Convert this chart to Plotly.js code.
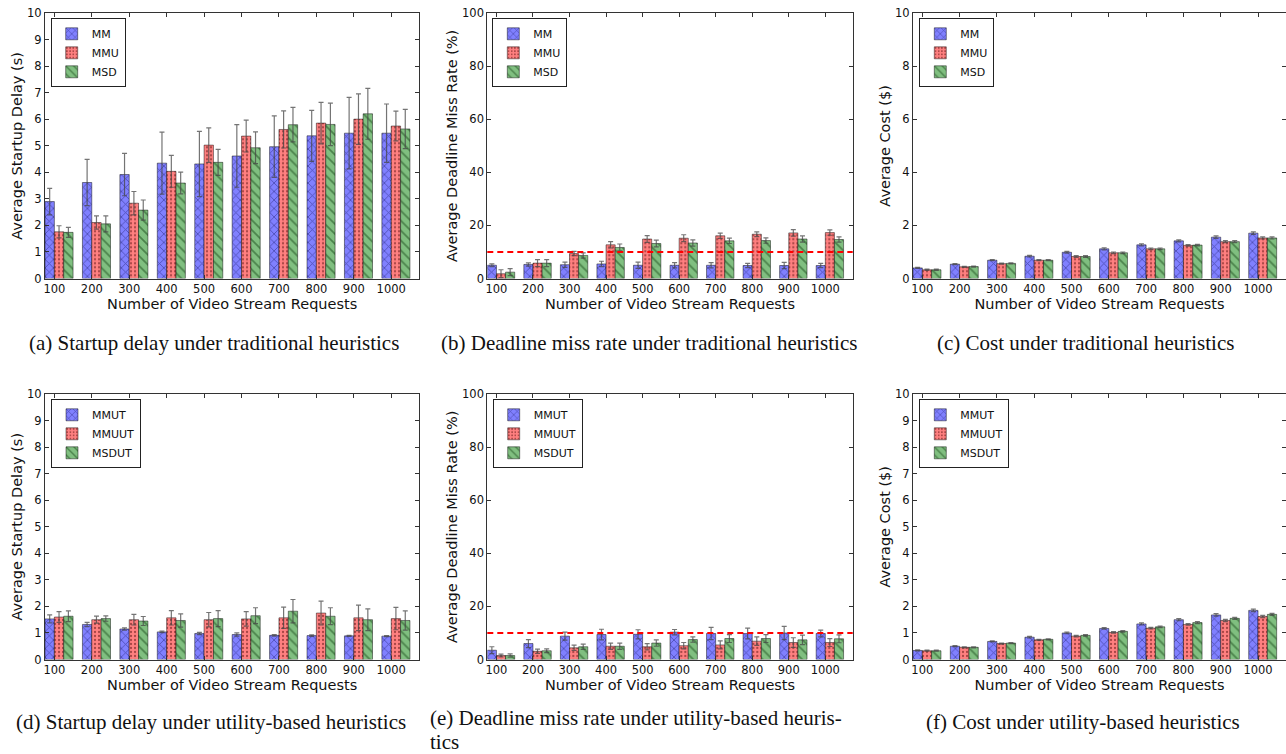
<!DOCTYPE html>
<html>
<head>
<meta charset="utf-8">
<script src="https://cdn.plot.ly/plotly-3.0.1.min.js"></script>
<style>html,body{margin:0;padding:0;background:#fff;}#chart{width:1286px;height:754px;}</style>
</head>
<body>
<div id="chart"></div>
<script>
// ---------- data ----------
const categories = ['100','200','300','400','500','600','700','800','900','1000'];

// (a) startup delay, traditional heuristics
const delayTradMM     = [2.90, 3.62, 3.92, 4.35, 4.32, 4.62, 4.97, 5.38, 5.48, 5.48];
const delayTradMMErr  = [0.50, 0.87, 0.80, 1.17, 1.23, 1.18, 1.16, 0.96, 1.35, 1.10];
const delayTradMMU    = [1.76, 2.11, 2.84, 4.04, 5.03, 5.37, 5.62, 5.86, 6.01, 5.75];
const delayTradMMUErr = [0.23, 0.25, 0.44, 0.60, 0.65, 0.60, 0.70, 0.78, 0.95, 0.56];
const delayTradMSD    = [1.74, 2.06, 2.58, 3.60, 4.38, 4.93, 5.80, 5.81, 6.21, 5.64];
const delayTradMSDErr = [0.19, 0.30, 0.38, 0.41, 0.49, 0.60, 0.65, 0.80, 0.96, 0.74];

// (b) deadline miss rate, traditional heuristics
const missTradMM     = [5.0, 5.3, 5.2, 5.5, 5.0, 5.0, 5.0, 4.9, 4.9, 4.9];
const missTradMMErr  = [0.5, 0.6, 1.0, 1.0, 1.2, 1.0, 1.0, 0.8, 1.2, 0.8];
const missTradMMU    = [1.8, 5.8, 9.4, 12.7, 14.9, 15.2, 16.1, 16.7, 17.2, 17.3];
const missTradMMUErr = [1.5, 1.3, 0.8, 1.2, 1.3, 1.3, 1.0, 0.9, 1.2, 1.0];
const missTradMSD    = [2.4, 5.8, 8.7, 11.7, 13.2, 13.4, 14.2, 14.3, 14.9, 14.7];
const missTradMSDErr = [1.3, 1.3, 1.0, 1.3, 1.3, 1.2, 1.0, 1.0, 1.2, 1.0];

// (c) cost, traditional heuristics
const costTradMM     = [0.40, 0.54, 0.69, 0.84, 0.99, 1.12, 1.27, 1.42, 1.56, 1.71];
const costTradMMErr  = [0.02, 0.02, 0.02, 0.03, 0.03, 0.04, 0.04, 0.04, 0.05, 0.05];
const costTradMMU    = [0.33, 0.44, 0.56, 0.69, 0.83, 0.97, 1.12, 1.25, 1.39, 1.53];
const costTradMMUErr = [0.02, 0.02, 0.02, 0.02, 0.03, 0.03, 0.03, 0.03, 0.04, 0.04];
const costTradMSD    = [0.33, 0.45, 0.57, 0.69, 0.83, 0.97, 1.12, 1.26, 1.39, 1.53];
const costTradMSDErr = [0.02, 0.02, 0.02, 0.02, 0.03, 0.03, 0.03, 0.03, 0.04, 0.04];

// (d) startup delay, utility-based heuristics
const delayUtilMMUT     = [1.53, 1.32, 1.15, 1.04, 0.98, 0.94, 0.91, 0.90, 0.89, 0.88];
const delayUtilMMUTErr  = [0.15, 0.08, 0.04, 0.03, 0.04, 0.06, 0.03, 0.03, 0.02, 0.02];
const delayUtilMMUUT    = [1.60, 1.50, 1.50, 1.57, 1.50, 1.53, 1.57, 1.75, 1.57, 1.54];
const delayUtilMMUUTErr = [0.20, 0.13, 0.20, 0.27, 0.27, 0.27, 0.40, 0.45, 0.48, 0.42];
const delayUtilMSDUT    = [1.63, 1.54, 1.45, 1.47, 1.54, 1.65, 1.82, 1.63, 1.50, 1.47];
const delayUtilMSDUTErr = [0.20, 0.10, 0.17, 0.25, 0.30, 0.30, 0.44, 0.32, 0.41, 0.36];

// (e) deadline miss rate, utility-based heuristics
const missUtilMMUT     = [3.5, 6.0, 8.8, 9.4, 9.5, 10.3, 9.8, 9.8, 10.0, 9.8];
const missUtilMMUTErr  = [1.3, 1.5, 1.5, 2.0, 1.7, 1.0, 2.3, 2.0, 2.5, 1.3];
const missUtilMMUUT    = [1.5, 3.1, 4.4, 5.0, 4.8, 5.2, 5.5, 6.9, 6.4, 6.4];
const missUtilMMUUTErr = [0.5, 0.8, 1.0, 1.2, 1.2, 1.2, 1.5, 1.6, 1.8, 1.5];
const missUtilMSDUT    = [1.5, 3.3, 4.8, 5.0, 6.2, 7.5, 7.9, 7.9, 7.4, 7.8];
const missUtilMSDUTErr = [0.6, 0.7, 1.0, 1.2, 1.2, 1.0, 1.5, 1.5, 1.8, 1.5];

// (f) cost, utility-based heuristics
const costUtilMMUT     = [0.34, 0.50, 0.68, 0.84, 1.00, 1.17, 1.34, 1.50, 1.68, 1.85];
const costUtilMMUTErr  = [0.02, 0.02, 0.02, 0.03, 0.03, 0.03, 0.04, 0.04, 0.05, 0.05];
const costUtilMMUUT    = [0.33, 0.46, 0.60, 0.74, 0.88, 1.02, 1.18, 1.32, 1.47, 1.62];
const costUtilMMUUTErr = [0.02, 0.02, 0.02, 0.02, 0.03, 0.03, 0.03, 0.03, 0.04, 0.04];
const costUtilMSDUT    = [0.33, 0.46, 0.62, 0.76, 0.91, 1.06, 1.23, 1.39, 1.55, 1.70];
const costUtilMSDUTErr = [0.02, 0.02, 0.02, 0.02, 0.03, 0.03, 0.03, 0.04, 0.04, 0.04];

const namesTrad = ['MM', 'MMU', 'MSD'];
const namesUtil = ['MMUT', 'MMUUT', 'MSDUT'];

const threshold = 10;

const yTitles = ['Average Startup Delay (s)', 'Average Deadline Miss Rate (%)', 'Average Cost ($)',
                 'Average Startup Delay (s)', 'Average Deadline Miss Rate (%)', 'Average Cost ($)'];
const xTitle = 'Number of Video Stream Requests';
const captions = ['(a) Startup delay under traditional heuristics',
                  '(b) Deadline miss rate under traditional heuristics',
                  '(c) Cost under traditional heuristics',
                  '(d) Startup delay under utility-based heuristics',
                  '(e) Deadline miss rate under utility-based heuris-',
                  '(f) Cost under utility-based heuristics'];
const captionTail = 'tics';

// ---------- build ----------
const W = 1286, H = 754;
const FONT = 'DejaVu Sans, sans-serif';
const SERIF = 'Liberation Serif, Times New Roman, serif';
const idx = categories.map((c, i) => i);
const BW = 0.25;

const styles = [
  {color: '#8080ff', shape: 'x',  size: 6, fg: 'rgba(30,30,110,0.55)'},
  {color: '#ff8080', shape: '.',  size: 4, fg: 'rgba(110,30,30,0.6)'},
  {color: '#80bf80', shape: '\\', size: 7, fg: 'rgba(30,80,30,0.55)'}
];

const panels = [
  {series: [[delayTradMM, delayTradMMErr], [delayTradMMU, delayTradMMUErr], [delayTradMSD, delayTradMSDErr]], names: namesTrad, yr: [0, 10], dt: 1},
  {series: [[missTradMM, missTradMMErr], [missTradMMU, missTradMMUErr], [missTradMSD, missTradMSDErr]], names: namesTrad, yr: [0, 100], dt: 20, line: true},
  {series: [[costTradMM, costTradMMErr], [costTradMMU, costTradMMUErr], [costTradMSD, costTradMSDErr]], names: namesTrad, yr: [0, 10], dt: 2},
  {series: [[delayUtilMMUT, delayUtilMMUTErr], [delayUtilMMUUT, delayUtilMMUUTErr], [delayUtilMSDUT, delayUtilMSDUTErr]], names: namesUtil, yr: [0, 10], dt: 1},
  {series: [[missUtilMMUT, missUtilMMUTErr], [missUtilMMUUT, missUtilMMUUTErr], [missUtilMSDUT, missUtilMSDUTErr]], names: namesUtil, yr: [0, 100], dt: 20, line: true},
  {series: [[costUtilMMUT, costUtilMMUTErr], [costUtilMMUUT, costUtilMMUUTErr], [costUtilMSDUT, costUtilMSDUTErr]], names: namesUtil, yr: [0, 10], dt: 1}
];

// plot-area pixel boxes [left, right, top, bottom]
const boxes = [
  [45, 419.3, 13.3, 278.5], [487.3, 852.7, 13.3, 278.5], [913, 1286, 13.3, 278.5],
  [45, 419.3, 394, 659.5], [487.3, 852.7, 394, 659.5], [913, 1286, 394, 659.5]
];
const legendPos = [[50.7, 18.3], [492.3, 18.3], [919.3, 18.3], [51, 399.3], [492.7, 399.3], [919.3, 399.3]];
const captionPos = [[214, 343], [649, 343], [1085, 343], [211, 722], [428, 718], [1083, 722]];

const traces = [];
const layout = {
  width: W, height: H,
  margin: {l: 0, r: 0, t: 0, b: 0},
  paper_bgcolor: '#ffffff', plot_bgcolor: '#ffffff',
  barmode: 'overlay',
  showlegend: true,
  font: {family: FONT, color: '#111', size: 11.5},
  shapes: [], annotations: []
};

panels.forEach((p, pi) => {
  const n = pi + 1;
  const sfx = n === 1 ? '' : String(n);
  const legName = 'legend' + sfx;
  p.series.forEach((s, k) => {
    const st = styles[k];
    traces.push({
      type: 'bar', x: idx, y: s[0],
      width: BW, offset: k * BW,
      name: p.names[k],
      xaxis: 'x' + sfx, yaxis: 'y' + sfx,
      legend: legName,
      marker: {
        color: st.color,
        line: {color: 'rgba(0,0,0,0.45)', width: 1},
        pattern: {shape: st.shape, size: st.size, solidity: 0.25, fgcolor: st.fg, bgcolor: st.color, fillmode: 'replace'}
      },
      error_y: {type: 'data', array: s[1], visible: true, color: 'rgba(70,70,70,0.75)', thickness: 1.2, width: 2.5},
      hoverinfo: 'y+name'
    });
  });
  const b = boxes[pi];
  layout['xaxis' + sfx] = {
    domain: [b[0] / W, b[1] / W], anchor: 'y' + sfx,
    range: [0, categories.length], tickmode: 'array',
    tickvals: idx.map(i => i + BW), ticktext: categories,
    ticks: 'inside', ticklen: 4, tickcolor: '#333', mirror: 'ticks',
    showline: true, linecolor: '#333', linewidth: 1,
    showgrid: false, zeroline: false, fixedrange: true,
    tickfont: {family: FONT, size: 11.5, color: '#111'},
    title: {text: xTitle, font: {family: FONT, size: 14.5, color: '#111'}, standoff: 0}
  };
  layout['yaxis' + sfx] = {
    domain: [1 - b[3] / H, 1 - b[2] / H], anchor: 'x' + sfx,
    range: p.yr, dtick: p.dt, tick0: 0,
    ticks: 'inside', ticklen: 4, tickcolor: '#333', mirror: 'ticks',
    showline: true, linecolor: '#333', linewidth: 1,
    showgrid: false, zeroline: false, fixedrange: true,
    tickfont: {family: FONT, size: 11.5, color: '#111'},
    title: {text: yTitles[pi], font: {family: FONT, size: 14.5, color: '#111'}, standoff: 0}
  };
  const lp = legendPos[pi];
  layout[legName] = {
    x: lp[0] / W, y: 1 - lp[1] / H, xanchor: 'left', yanchor: 'top',
    xref: 'paper', yref: 'paper',
    bgcolor: '#ffffff', bordercolor: '#222', borderwidth: 1,
    font: {family: FONT, size: 11, color: '#111'},
    itemwidth: 30, tracegroupgap: 0, traceorder: 'normal'
  };
  if (p.line) {
    layout.shapes.push({
      type: 'line', xref: 'x' + sfx + ' domain', yref: 'y' + sfx,
      x0: 0, x1: 1, y0: threshold, y1: threshold,
      line: {color: '#ff0000', width: 2, dash: '6px,4px'}
    });
  }
  const cp = captionPos[pi];
  layout.annotations.push({
    text: captions[pi], xref: 'paper', yref: 'paper',
    x: cp[0] / W, y: 1 - cp[1] / H,
    xanchor: pi === 4 ? 'left' : 'center', yanchor: 'middle',
    showarrow: false,
    font: {family: SERIF, size: 21, color: '#111'}
  });
  if (pi === 4) {
    layout.annotations.push({
      text: captionTail, xref: 'paper', yref: 'paper',
      x: cp[0] / W, y: 1 - (cp[1] + 24) / H,
      xanchor: 'left', yanchor: 'middle',
      showarrow: false,
      font: {family: SERIF, size: 21, color: '#111'}
    });
  }
});

Plotly.newPlot('chart', traces, layout, {displayModeBar: false, staticPlot: true});
</script>
</body>
</html>
